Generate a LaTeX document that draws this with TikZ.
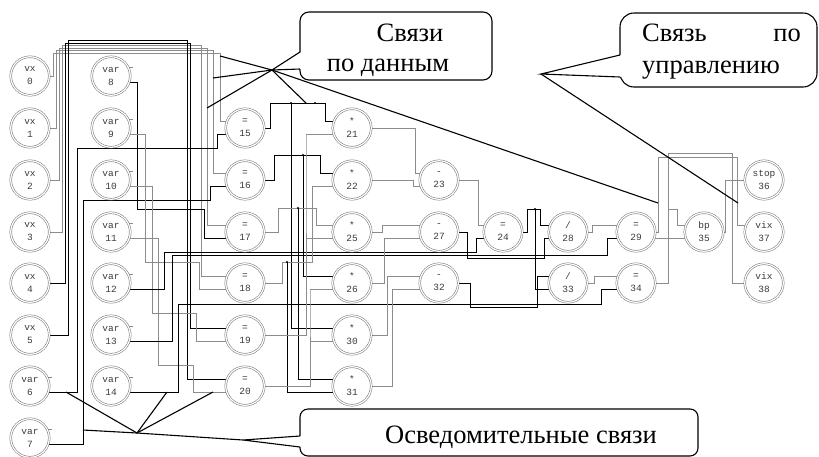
\documentclass[tikz,border=0pt]{standalone}
\usepackage{fontspec}
\setmainfont{Liberation Serif}
\setmonofont{Liberation Mono}
\usetikzlibrary{calc,backgrounds}
\definecolor{ringgray}{RGB}{110,110,110}
\definecolor{wiregray}{RGB}{140,140,140}
\definecolor{labgray}{RGB}{60,60,60}

\begin{document}
\begin{tikzpicture}[x=1pt, y=-1pt,
  op/.style={circle, draw=ringgray, line width=0.5pt, double=white,
             double distance=1.3pt, fill=white, minimum size=38.5pt, inner sep=0pt,
             align=center, text=labgray,
             font=\fontsize{9.5}{13}\selectfont\ttfamily},
  wire/.style={wiregray, line width=0.9pt},
  link/.style={black, line width=0.65pt},
  pin/.style={wiregray, line width=0.6pt},
  note/.style={draw=black, line width=1.1pt, fill=white, rounded corners=9pt},
  lead/.style={black, line width=1.1pt},
  say/.style={font=\fontsize{26.5}{30}\selectfont, inner sep=0pt}
]
\useasboundingbox (0,0) rectangle (819,456);

%% Input vertices
\foreach \i/\y in {0/76,1/128,2/180,3/232,4/283,5/335}
  \node[op] (n\i) at (30,\y) {vx\\\i};
\node[op] (n6) at (30,386) {var\\6};
\node[op] (n7) at (30,438) {var\\7};
\foreach \i/\y in {8/76,9/128,10/180,11/232,12/283,13/335,14/386}
  \node[op] (n\i) at (111,\y) {var\\\i};

%% Assignments and products
\foreach \i/\y in {15/128,16/180,17/232,18/283,19/335,20/386}
  \node[op] (n\i) at (245,\y) {=\\\i};
\foreach \i/\y in {21/128,22/180,25/232,26/283,30/335,31/386}
  \node[op] (n\i) at (352,\y) {*\\\i};
\foreach \i/\y in {23/180,27/232,32/283}
  \node[op] (n\i) at (439,\y) {-\\\i};

%% Division, branch and output
\node[op] (n24) at (503,232) {=\\24};
\node[op] (n28) at (568,232) {/\\28};
\node[op] (n33) at (568,283) {/\\33};
\node[op] (n29) at (636,232) {=\\29};
\node[op] (n34) at (636,283) {=\\34};
\node[op] (n35) at (704,232) {bp\\35};
\node[op] (n36) at (764,180) {stop\\36};
\node[op] (n37) at (764,232) {vix\\37};
\node[op] (n38) at (764,283) {vix\\38};

\begin{scope}[on background layer]
%% vx -> = (top bundle)
\foreach \s/\t/\xa/\yb/\xb in {0/15/53/53/220,1/16/56/50.5/213,2/17/59/48/207,3/18/62/45.5/201}
  \draw[wire] (n\s.east) -| (\xa,\yb) -- (\xb,\yb) |- (n\t.160);
\foreach \s/\t/\xa/\yb/\xb in {4/19/65/43/190,5/20/68/40.5/187}
  \draw[link] (n\s.east) -| (\xa,\yb) -- (\xb,\yb) |- (n\t.160);

%% var -> =
\foreach \s/\t/\xa/\yb/\xb in {6/15/77/148/217,7/16/83/200/210,8/17/137/209/204}
  \draw[link] (n\s.-20) -| (\xa,\yb) -- (\xb,\yb) |- (n\t.200);
\foreach \s/\t/\xa/\yb/\xb in {9/18/145/262/199,10/19/152/313/196,11/20/158/365/193}
  \draw[wire] (n\s.-20) -| (\xa,\yb) -- (\xb,\yb) |- (n\t.200);
\foreach \i in {6,...,14}
  \draw[pin] (n\i.25) -- ++(4,0);

%% long informational lines
\draw[link] (n12.-20) -| (164,252) -| ($(n24.200)+(-8,0)$) -- (n24.200);
\draw[link] (n13.-20) -| (172,255) -| ($(n29.200)+(-10,0)$) -- (n29.200);
\draw[link] (n14.-20) -| (178,304) -| ($(n34.200)+(-16,0)$) -- (n34.200);

%% = -> * fan-out
\draw[link] (n15.east) -| (270,103) -- (325,103) |- (n21.160);
\draw[link] (291,103) |- (n30.160);
\draw[link] (n16.east) -| (274,155) -- (320,155) |- (n22.160);
\draw[link] (303,155) |- (n26.160);
\draw[wire] (n17.east) -| (278,208) -- (316,208) |- (n25.160);
\draw[link] (298,208) |- (n31.160);
\draw[wire] (n18.east) -| (282,262) -- (312,262) |- (n22.200);
\draw[link] (287,262) |- (n31.200);
\draw[wire] (n19.east) -| (306,134) |- (n21.200);
\draw[wire] (306,239) |- (n25.200);
\draw[wire] (n20.east) -| (310,289) |- (n26.200);
\draw[wire] (310,342) |- (n30.200);
\foreach \p in {(291,103),(315,103),(303,155),(298,208),(287,262)}
  \fill \p circle (1.1pt);

%% * -> -
\draw[wire] (n21.east) -| ($(n23.160)+(-5,0)$) -- (n23.160);
\draw[wire] (n22.east) -| ($(n23.200)+(-7,0)$) -- (n23.200);
\draw[wire] (n25.east) -| ($(n27.160)+(-38,0)$) -- (n27.160);
\draw[wire] (n26.east) -| ($(n27.200)+(-36,0)$) -- (n27.200);
\draw[wire] (n30.east) -| ($(n32.160)+(-33,0)$) -- (n32.160);
\draw[wire] (n31.east) -| ($(n32.200)+(-28,0)$) -- (n32.200);

%% determinant and quotients
\draw[wire] (n23.east) -| ($(n24.160)+(-6,0)$) -- (n24.160);
\draw[link] (n27.east) -| (467,258) -| ($(n28.200)+(-5,0)$) -- (n28.200);
\draw[link] (n24.east) -| (527,209) -| ($(n28.160)+(-9,0)$) -- (n28.160);
\draw[link] (535,209) |- (n33.200);
\fill (535,209) circle (1.1pt);
\draw[link] (n32.east) -| (470,307) -| ($(n33.160)+(-12,0)$) -- (n33.160);
\draw[wire] (n28.east) -| ($(n29.160)+(-25,0)$) -- (n29.160);
\draw[wire] (n33.east) -| ($(n34.160)+(-23,0)$) -- (n34.160);

%% control part
\coordinate (k34) at (668,209);
\draw[wire] (n29.-20) -- (n35.200);
\draw[wire] (n29.east) -| (658,157) -| ($(n37.160)+(-8,0)$) -- (n37.160);
\draw[wire] (n34.east) -| (668,153) -| ($(n38.west)+(-12,0)$) -- (n38.west);
\draw[wire] (k34) -| ($(n35.160)+(-8,0)$) -- (n35.160);
\draw[wire] (n35.east) -| ($(n36.west)+(-19,0)$) -- (n36.west);
\end{scope}

%% Callout: data links
\coordinate (ad) at (272,70);
\draw[note] (300,12) rectangle (492,80);
\fill[white] (301,52) -- (ad) -- (301,69) -- cycle;
\draw[lead] (300,52) -- (ad) -- (300,69);
\foreach \p in {(220,56),(213,78),(207,108),(306,103),(658,203)}
  \draw[lead] (ad) -- \p;
\node[say, anchor=base] (d1) at (410,41) {Связи};
\node[say, anchor=base] (d2) at (388,71) {по данным};

%% Callout: control link
\coordinate (ac) at (541,74);
\draw[note, rounded corners=14pt] (620,13) rectangle (817,87);
\fill[white] (621,55) -- (ac) -- (621,77) -- cycle;
\draw[lead] (620,55) -- (ac) -- (620,77);
\draw[lead] (ac) -- (738,203);
\node[say, anchor=base west] (c1) at (642,41) {Связь};
\node[say, anchor=base east] (c2) at (801,41) {по};
\node[say, anchor=base west] (c3) at (642,73) {управлению};

%% Callout: informational links
\coordinate (ai) at (243,440);
\coordinate (bi) at (137,433);
\draw[note, rounded corners=8pt] (300,409) rectangle (698,456);
\fill[white] (301,436) -- (ai) -- (301,447) -- cycle;
\draw[lead] (300,436) -- (ai) -- (300,447);
\draw[lead] (ai) -- (bi);
\foreach \p in {(66,392),(167,392),(213,392),(83,430)}
  \draw[lead] (bi) -- \p;
\node[say, anchor=base] (i1) at (521,443) {Осведомительные связи};
\end{tikzpicture}
\end{document}
